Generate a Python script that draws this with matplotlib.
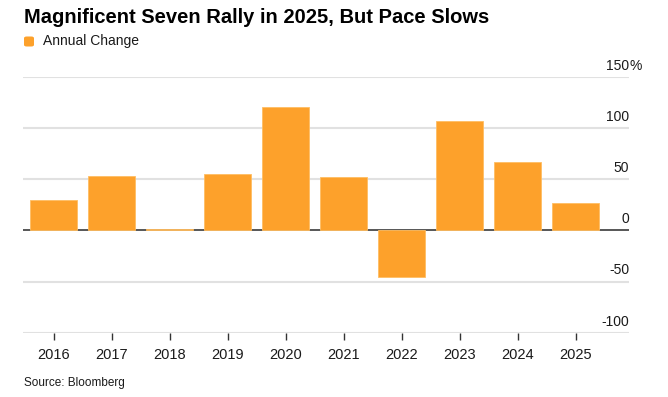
import matplotlib.pyplot as plt
import matplotlib.transforms as mtransforms
from matplotlib.patches import FancyBboxPatch

# data
years = ["2016", "2017", "2018", "2019", "2020", "2021", "2022", "2023", "2024", "2025"]
annual_change = [30, 53, 1.5, 55, 120, 52, -46, 107, 67, 27]
y_ticks = [-100, -50, 0, 50, 100, 150]
y_labels = ["-100", "-50", "0", "50", "100", "150"]

BAR_COLOR = "#FDA12B"
GRID_COLOR = "#E1E1E1"

plt.rcParams['font.family'] = ['Liberation Sans', 'DejaVu Sans']

fig = plt.figure(figsize=(6.68, 3.97), dpi=100)
ax = fig.add_axes([23 / 668, 1 - 332.7 / 397, (629 - 23) / 668, (332.7 - 76.7) / 397])

x = list(range(len(years)))
ax.bar(x, annual_change, width=0.81, color=BAR_COLOR, edgecolor="#FFBE63",
       linewidth=0.6, zorder=3)

ax.set_xlim(-0.53, 9.92)
ax.set_ylim(-100, 150)

# gridlines, zero line kept under the bars so the tiny 2018 bar shows
for t in y_ticks:
    if t == 0:
        ax.axhline(0, color="#3a3a3a", linewidth=1.2, zorder=2)
    else:
        ax.axhline(t, color=GRID_COLOR, linewidth=1.5, zorder=1)

# right-side labels sitting above the gridlines
trans = mtransforms.blended_transform_factory(ax.transAxes, ax.transData)
offset = mtransforms.offset_copy(trans, fig=fig, x=0, y=4, units="dots")
for t, lab in zip(y_ticks, y_labels):
    ax.text(1.0, t, lab, transform=offset, ha="right", va="bottom",
            fontsize=10, color="#1a1a1a")
    if t == 150:
        ax.text(1.0, t, "%", transform=offset, ha="left", va="bottom",
                fontsize=10, color="#1a1a1a")

for side in ["top", "right", "left", "bottom"]:
    ax.spines[side].set_visible(False)
ax.set_yticks([])
ax.set_xticks(x)
ax.set_xticklabels(years, fontsize=10.5, color="#1a1a1a")
ax.tick_params(axis="x", length=5, width=1, color="#333333", pad=6)

# title, legend, source
fig.text(24 / 668, 1 - 8 / 397, "Magnificent Seven Rally in 2025, But Pace Slows",
         ha="left", va="top", fontsize=14.5, fontweight="bold", color="black")
fig.patches.append(FancyBboxPatch((24 / 668, 1 - 46.5 / 397), 10 / 668, 10 / 397,
                                  boxstyle="round,pad=0,rounding_size=0.004",
                                  transform=fig.transFigure, facecolor=BAR_COLOR,
                                  edgecolor="none"))
fig.text(43 / 668, 1 - 41 / 397, "Annual Change", ha="left", va="center",
         fontsize=10, color="#1a1a1a")
fig.text(24 / 668, 1 - 383 / 397, "Source: Bloomberg", ha="left", va="center",
         fontsize=8.5, color="#1a1a1a")

fig.savefig("out.png", dpi=100)
